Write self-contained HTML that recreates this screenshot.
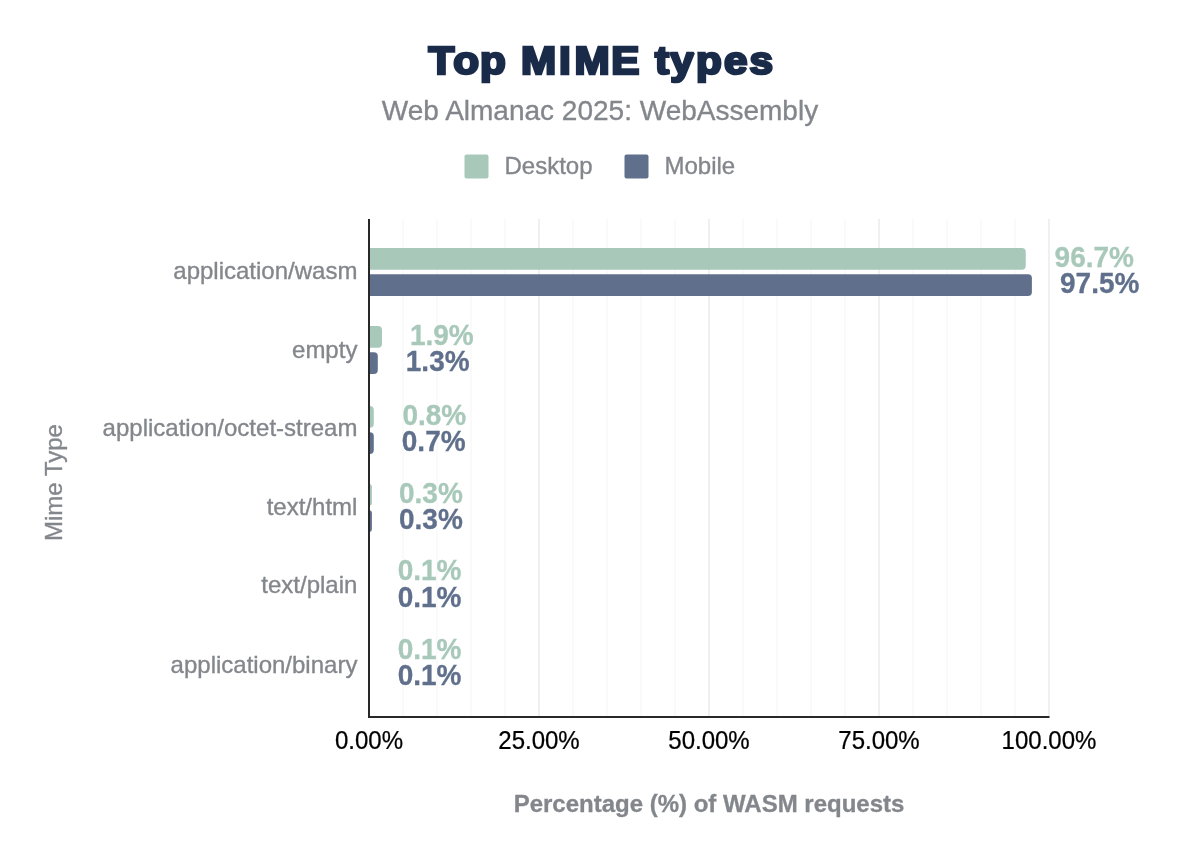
<!DOCTYPE html>
<html lang="en"><head><meta charset="utf-8"><title>Top MIME types</title>
<style>
html,body{margin:0;padding:0;background:#fff;}
svg{display:block}
text{font-family:"Liberation Sans",sans-serif;}
.t{font-weight:700;font-size:38.4px;fill:#1a2b49;stroke:#1a2b49;stroke-width:2.6px;stroke-linejoin:miter;stroke-miterlimit:1.6}
.sub{font-size:28px;fill:#83878c;stroke:#83878c;stroke-width:.35px}
.lab{font-size:24px;fill:#83878c;stroke:#83878c;stroke-width:.35px}
.val{font-size:29.1px;font-weight:700;stroke-width:.3px}
.tick{font-size:24.9px;fill:#000;stroke:#000;stroke-width:.25px}
.axt{font-size:24px;font-weight:700;fill:#83878c;stroke:#83878c;stroke-width:.3px}
</style></head><body>
<svg width="1200" height="860" viewBox="0 0 1200 860">
<rect width="1200" height="860" fill="#fff"/>

<text class="t" transform="scale(1.10,1)" y="73.7" x="389.6 412.1 436.4 459.1 473.6 508.3 522.2 555.6 581.8 595.4 609.3 632.7 658.2 681.3">Top MIME types</text>
<text class="sub" x="600" y="119.7" text-anchor="middle">Web Almanac 2025: WebAssembly</text>
<rect x="464.5" y="154.6" width="24" height="24" rx="2" fill="#a8c9b9"/>
<text class="lab" x="504.5" y="173.5">Desktop</text>
<rect x="624.5" y="154.6" width="24" height="24" rx="2" fill="#60708c"/>
<text class="lab" x="664.5" y="173.5">Mobile</text>
<rect x="402.0" y="219" width="2" height="497" fill="#fafafa"/>
<rect x="436.0" y="219" width="2" height="497" fill="#fafafa"/>
<rect x="470.0" y="219" width="2" height="497" fill="#fafafa"/>
<rect x="504.0" y="219" width="2" height="497" fill="#fafafa"/>
<rect x="538.0" y="219" width="2" height="497" fill="#f0f0f0"/>
<rect x="572.0" y="219" width="2" height="497" fill="#fafafa"/>
<rect x="606.0" y="219" width="2" height="497" fill="#fafafa"/>
<rect x="640.0" y="219" width="2" height="497" fill="#fafafa"/>
<rect x="674.0" y="219" width="2" height="497" fill="#fafafa"/>
<rect x="708.0" y="219" width="2" height="497" fill="#f0f0f0"/>
<rect x="742.0" y="219" width="2" height="497" fill="#fafafa"/>
<rect x="776.0" y="219" width="2" height="497" fill="#fafafa"/>
<rect x="810.0" y="219" width="2" height="497" fill="#fafafa"/>
<rect x="844.0" y="219" width="2" height="497" fill="#fafafa"/>
<rect x="878.0" y="219" width="2" height="497" fill="#f0f0f0"/>
<rect x="912.0" y="219" width="2" height="497" fill="#fafafa"/>
<rect x="946.0" y="219" width="2" height="497" fill="#fafafa"/>
<rect x="980.0" y="219" width="2" height="497" fill="#fafafa"/>
<rect x="1014.0" y="219" width="2" height="497" fill="#fafafa"/>
<rect x="1048.0" y="219" width="2" height="497" fill="#f0f0f0"/>
<path d="M369.0 248.00 H1021.75 Q1025.75 248.00 1025.75 252.00 V265.67 Q1025.75 269.67 1021.75 269.67 H369.0 Z" fill="#a8c9b9"/>
<path d="M369.0 274.33 H1027.90 Q1031.90 274.33 1031.90 278.33 V292.00 Q1031.90 296.00 1027.90 296.00 H369.0 Z" fill="#60708c"/>
<text class="lab" x="357.4" y="279.4" text-anchor="end">application/wasm</text>
<text class="val" transform="translate(1054.6,266.8) scale(.962,1)" fill="#a8c9b9" stroke="#a8c9b9">96.7%</text>
<text class="val" transform="translate(1060.0,293.0) scale(.962,1)" fill="#60708c" stroke="#60708c">97.5%</text>
<path d="M369.0 326.00 H378.00 Q382.00 326.00 382.00 330.00 V343.67 Q382.00 347.67 378.00 347.67 H369.0 Z" fill="#a8c9b9"/>
<path d="M369.0 352.33 H373.80 Q377.80 352.33 377.80 356.33 V370.00 Q377.80 374.00 373.80 374.00 H369.0 Z" fill="#60708c"/>
<text class="lab" x="357.4" y="357.5" text-anchor="end">empty</text>
<text class="val" transform="translate(409.9,345.1) scale(.962,1)" fill="#a8c9b9" stroke="#a8c9b9">1.9%</text>
<text class="val" transform="translate(405.8,371.3) scale(.962,1)" fill="#60708c" stroke="#60708c">1.3%</text>
<path d="M369.0 406.00 H369.80 Q373.80 406.00 373.80 410.00 V423.67 Q373.80 427.67 369.80 427.67 H369.0 Z" fill="#a8c9b9"/>
<path d="M369.0 432.33 H369.80 Q373.80 432.33 373.80 436.33 V450.00 Q373.80 454.00 369.80 454.00 H369.0 Z" fill="#60708c"/>
<text class="lab" x="357.4" y="436.3" text-anchor="end">application/octet-stream</text>
<text class="val" transform="translate(402.4,424.7) scale(.962,1)" fill="#a8c9b9" stroke="#a8c9b9">0.8%</text>
<text class="val" transform="translate(401.8,450.9) scale(.962,1)" fill="#60708c" stroke="#60708c">0.7%</text>
<path d="M369.0 484.00 H369.00 Q371.90 484.00 371.90 486.90 V502.77 Q371.90 505.67 369.00 505.67 H369.0 Z" fill="#a8c9b9"/>
<path d="M369.0 510.33 H369.00 Q371.90 510.33 371.90 513.23 V529.10 Q371.90 532.00 369.00 532.00 H369.0 Z" fill="#60708c"/>
<text class="lab" x="357.4" y="515.2" text-anchor="end">text/html</text>
<text class="val" transform="translate(399.0,503.1) scale(.962,1)" fill="#a8c9b9" stroke="#a8c9b9">0.3%</text>
<text class="val" transform="translate(399.0,529.3) scale(.962,1)" fill="#60708c" stroke="#60708c">0.3%</text>
<path d="M369.0 562.00 H369.00 Q369.68 562.00 369.68 562.68 V582.99 Q369.68 583.67 369.00 583.67 H369.0 Z" fill="#a8c9b9"/>
<path d="M369.0 588.33 H369.00 Q369.68 588.33 369.68 589.01 V609.32 Q369.68 610.00 369.00 610.00 H369.0 Z" fill="#60708c"/>
<text class="lab" x="357.4" y="593.2" text-anchor="end">text/plain</text>
<text class="val" transform="translate(397.7,580.4) scale(.962,1)" fill="#a8c9b9" stroke="#a8c9b9">0.1%</text>
<text class="val" transform="translate(397.7,606.6) scale(.962,1)" fill="#60708c" stroke="#60708c">0.1%</text>
<path d="M369.0 642.00 H369.00 Q369.68 642.00 369.68 642.68 V662.99 Q369.68 663.67 369.00 663.67 H369.0 Z" fill="#a8c9b9"/>
<path d="M369.0 668.33 H369.00 Q369.68 668.33 369.68 669.01 V689.32 Q369.68 690.00 369.00 690.00 H369.0 Z" fill="#60708c"/>
<text class="lab" x="357.4" y="672.8" text-anchor="end">application/binary</text>
<text class="val" transform="translate(397.7,658.9) scale(.962,1)" fill="#a8c9b9" stroke="#a8c9b9">0.1%</text>
<text class="val" transform="translate(397.7,685.1) scale(.962,1)" fill="#60708c" stroke="#60708c">0.1%</text>
<rect x="368" y="219" width="2" height="499" fill="#282828"/>
<rect x="368" y="716" width="681.5" height="2" fill="#282828"/>
<text class="tick" transform="translate(369.0,749) scale(.965,1)" text-anchor="middle">0.00%</text>
<text class="tick" transform="translate(539.0,749) scale(.965,1)" text-anchor="middle">25.00%</text>
<text class="tick" transform="translate(709.0,749) scale(.965,1)" text-anchor="middle">50.00%</text>
<text class="tick" transform="translate(879.0,749) scale(.965,1)" text-anchor="middle">75.00%</text>
<text class="tick" transform="translate(1049.0,749) scale(.965,1)" text-anchor="middle">100.00%</text>
<text class="axt" x="709" y="811.5" text-anchor="middle">Percentage (%) of WASM requests</text>
<text class="lab" transform="translate(61.8,482.5) rotate(-90)" text-anchor="middle">Mime Type</text>
</svg></body></html>
